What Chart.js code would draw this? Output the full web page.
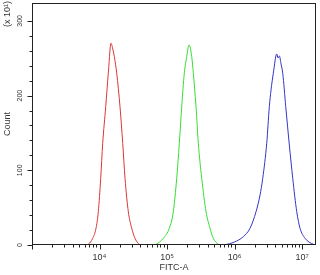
<!DOCTYPE html>
<html>
<head>
<meta charset="utf-8">
<script src="https://cdn.jsdelivr.net/npm/chart.js@4"></script>
<style>
  html, body { margin: 0; padding: 0; background: #fff; }
  #wrap { width: 320px; height: 275px; position: relative; }
</style>
</head>
<body>
<div id="wrap"><canvas id="histo"></canvas></div>
<script>
// valeurs (FITC-A, Count x 10)
const redX = [6310, 6825, 7930, 8875, 9600, 10420, 11150, 12360, 13500, 14800, 15850, 16570, 17980, 20120, 22070, 23870, 26720, 29990, 33560, 38870, 42630];
const redY = [0, 0.9, 9, 22.4, 44.6, 89.3, 136.2, 185.2, 230, 270.1, 261, 252.2, 230, 185.2, 136.2, 89.3, 44.6, 22.4, 9, 0.9, 0];

const greenX = [64190, 68710, 88150, 108170, 123970, 139190, 152100, 165120, 180420, 195820, 211780, 232230, 245260, 268950, 290880, 326650, 378270, 433510, 485170, 575440, 630960];
const greenY = [0, 0.9, 9, 22.4, 44.6, 89.3, 136.2, 185.2, 230, 252.2, 267.8, 252.2, 230, 185.2, 136.2, 89.3, 44.6, 22.4, 9, 0.9, 0];

const blueX = [652900, 766200, 918300, 1077900, 1350200, 1696600, 2082300, 2387000, 2617300, 2999200, 3277800, 3473000, 3756600, 4219800, 4410600, 4610700, 4885300, 5177300, 5734600, 6485500, 7282800, 8348700, 9341200, 11075000, 14703000, 16100000];
const blueY = [0, 0.9, 2.7, 5.4, 11.1, 22.4, 44.6, 67, 89.3, 136.2, 185.2, 207.6, 230, 255.8, 250.4, 253.1, 242.4, 230, 185.2, 133.9, 89.3, 44.6, 22.4, 9, 0.9, 0];

const xMajorTicks = [10000, 100000, 1000000, 10000000];
const xTickLabels = ['10⁴', '10⁵', '10⁶', '10⁷'];
const yTickLabels = [0, 100, 200, 300];

const xMin = 1000;
const xMax = 16100000;
const yMax = 324;

function toPoints(xs, ys) {
  return xs.map((x, i) => ({ x: x, y: ys[i] }));
}

// cadre + graduations + textes tournés
const axesPlugin = {
  id: 'axesPlugin',
  afterDraw(chart) {
    const ctx = chart.ctx;
    const area = chart.chartArea;
    const xs = chart.scales.x;
    const ys = chart.scales.y;
    ctx.save();
    ctx.strokeStyle = '#222';
    ctx.lineWidth = 1;
    ctx.strokeRect(Math.round(area.left) + 0.5, Math.round(area.top) + 0.5,
      Math.round(area.right - area.left) - 1, Math.round(area.bottom - area.top) - 1);

    const bottom = Math.round(area.bottom) - 0.5;
    ctx.beginPath();
    xs.ticks.forEach(t => {
      const v = t.value;
      const p = Math.pow(10, Math.floor(Math.log10(v) + 1e-9));
      const s = v / p;
      if (Math.abs(s - Math.round(s)) > 1e-6) return;
      const len = Math.round(s) === 1 ? 5 : 3;
      const px = Math.round(xs.getPixelForValue(v)) + 0.5;
      ctx.moveTo(px, bottom);
      ctx.lineTo(px, bottom + len);
    });
    const left = Math.round(area.left) + 0.5;
    ys.ticks.forEach(t => {
      const v = t.value;
      if (v % 20 !== 0) return;
      const len = v % 100 === 0 ? 5 : 3;
      const py = Math.round(ys.getPixelForValue(v)) + 0.5;
      ctx.moveTo(left, py);
      ctx.lineTo(left - len, py);
    });
    ctx.stroke();

    ctx.fillStyle = '#333';
    ctx.textAlign = 'center';
    ctx.textBaseline = 'middle';
    ctx.font = '7px "Liberation Sans", Arial, sans-serif';
    yTickLabels.forEach(v => {
      ctx.save();
      ctx.translate(20.5, ys.getPixelForValue(v));
      ctx.rotate(-Math.PI / 2);
      ctx.fillText(String(v), 0, 0);
      ctx.restore();
    });

    ctx.font = '9px "Liberation Sans", Arial, sans-serif';
    ctx.save();
    ctx.translate(8, 14);
    ctx.rotate(-Math.PI / 2);
    ctx.fillText('(x 10¹)', 0, 0);
    ctx.restore();
    ctx.restore();
  }
};

const lineStyle = { borderWidth: 1, pointRadius: 0, fill: false, cubicInterpolationMode: 'monotone' };

new Chart(document.getElementById('histo'), {
  type: 'line',
  data: {
    datasets: [
      Object.assign({ data: toPoints(redX, redY), borderColor: '#dd3535' }, lineStyle),
      Object.assign({ data: toPoints(greenX, greenY), borderColor: '#35dd35' }, lineStyle),
      Object.assign({ data: toPoints(blueX, blueY), borderColor: '#3535c8' }, lineStyle)
    ]
  },
  options: {
    responsive: true,
    maintainAspectRatio: false,
    animation: false,
    layout: { padding: { left: 0, top: 3, right: 4, bottom: 0 } },
    plugins: {
      legend: { display: false },
      tooltip: { enabled: false }
    },
    scales: {
      x: {
        type: 'logarithmic',
        min: xMin,
        max: xMax,
        // graduations dessinées par le plugin, celles-ci ne servent qu'à placer les libellés
        grid: { display: true, drawOnChartArea: false, drawTicks: true, tickLength: 7, color: 'rgba(0,0,0,0)' },
        border: { display: false },
        ticks: {
          autoSkip: false,
          maxRotation: 0,
          padding: 0,
          color: '#333',
          font: { family: '"Liberation Sans", Arial, sans-serif', size: 9 },
          callback: (v) => {
            const i = xMajorTicks.indexOf(v);
            return i >= 0 ? xTickLabels[i] : '';
          }
        },
        title: {
          display: true,
          text: 'FITC-A',
          color: '#333',
          padding: { top: 0, bottom: 2 },
          font: { family: '"Liberation Sans", Arial, sans-serif', size: 9 }
        },
        afterFit: (s) => { s.height = 30; }
      },
      y: {
        min: 0,
        max: yMax,
        grid: { display: false, drawTicks: false },
        border: { display: false },
        ticks: { stepSize: 20, display: false },
        title: {
          display: true,
          text: 'Count',
          color: '#333',
          padding: { top: 2.6, bottom: 0 },
          font: { family: '"Liberation Sans", Arial, sans-serif', size: 9 }
        },
        afterFit: (s) => { s.width = 32; }
      }
    }
  },
  plugins: [axesPlugin]
});
</script>
</body>
</html>
